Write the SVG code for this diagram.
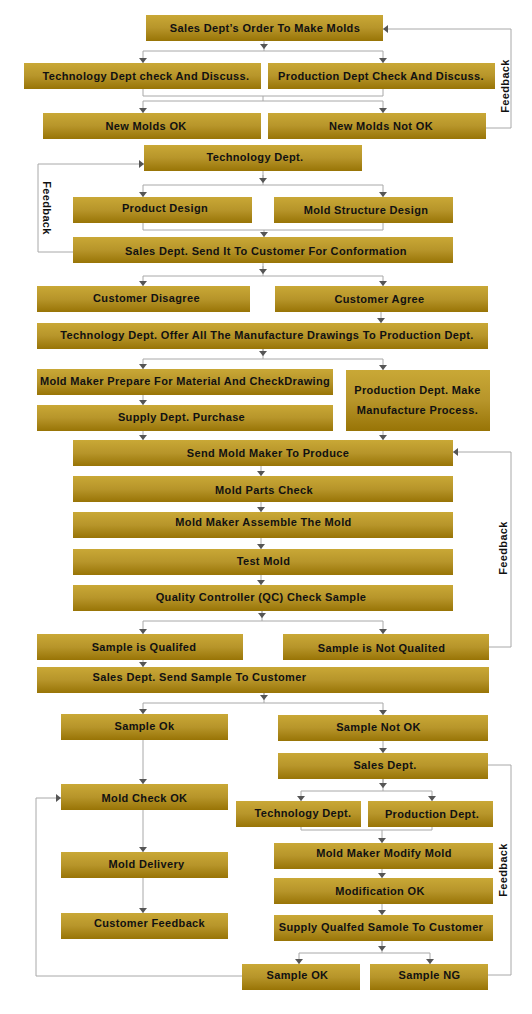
<svg xmlns="http://www.w3.org/2000/svg" width="532" height="1014" viewBox="0 0 532 1014">
<style>
.b{fill:url(#g);}
.t{font-family:"Liberation Sans",Arial,sans-serif;font-weight:bold;font-size:11px;letter-spacing:0.35px;fill:#111;text-anchor:middle;}
.s{text-anchor:start;}
.c{fill:none;stroke:#a8a8a8;stroke-width:1;}
.a{fill:none;stroke:#a8a8a8;stroke-width:1;marker-end:url(#ah);}
.f{font-family:"Liberation Sans",Arial,sans-serif;font-weight:bold;font-size:11px;letter-spacing:0.35px;fill:#111;text-anchor:middle;}
</style>
<defs>
<linearGradient id="g" x1="0" y1="0" x2="0" y2="1">
<stop offset="0" stop-color="#C9A836"/>
<stop offset="0.5" stop-color="#B7952A"/>
<stop offset="1" stop-color="#987406"/>
</linearGradient>
<marker id="ah" viewBox="0 0 5 8" refX="5" refY="4" markerWidth="5" markerHeight="8" markerUnits="userSpaceOnUse" orient="auto">
<path d="M0,0 L5,4 L0,8 z" fill="#555"/>
</marker>
</defs>
<rect width="532" height="1014" fill="#fff"/>
<g id="connectors">
<path class="c" d="M264,41 V51 M143,51 H383"/>
<path class="a" d="M264,43 V49"/>
<path class="a" d="M143,51 V63"/>
<path class="a" d="M383,51 V63"/>
<path class="c" d="M143,89 V96 H383 V89 M263,96 V101 M143,101 H383"/>
<path class="a" d="M143,101 V113"/>
<path class="a" d="M383,101 V113"/>
<path class="a" d="M486,128 H511 V29 H383"/>
<path class="c" d="M263,171 V185 M143,185 H383"/>
<path class="a" d="M263,175 V183"/>
<path class="a" d="M143,185 V197"/>
<path class="a" d="M383,185 V197"/>
<path class="c" d="M143,223 V230 H383 V223"/>
<path class="a" d="M264,230 V237"/>
<path class="a" d="M73,252 H38 V164 H144"/>
<path class="c" d="M263,263 V276 M143,276 H383"/>
<path class="a" d="M263,266 V274"/>
<path class="a" d="M143,276 V286"/>
<path class="a" d="M383,276 V286"/>
<path class="a" d="M381,312 V323"/>
<path class="c" d="M263,349 V359 M143,359 H383"/>
<path class="a" d="M263,349 V356"/>
<path class="a" d="M143,359 V369"/>
<path class="a" d="M383,359 V370"/>
<path class="a" d="M143,395 V405"/>
<path class="a" d="M143,431 V440"/>
<path class="a" d="M383,431 V440"/>
<path class="a" d="M261,466 V476"/>
<path class="a" d="M261,502 V512"/>
<path class="a" d="M261,538 V549"/>
<path class="a" d="M261,575 V585"/>
<path class="c" d="M262,611 V621 M143,621 H383"/>
<path class="a" d="M262,611 V618"/>
<path class="a" d="M143,621 V634"/>
<path class="a" d="M383,621 V634"/>
<path class="a" d="M489,647 H511 V452 H453"/>
<path class="a" d="M143,660 V667"/>
<path class="c" d="M264,693 V703 M143,703 H383"/>
<path class="a" d="M264,693 V700"/>
<path class="a" d="M143,703 V714"/>
<path class="a" d="M383,703 V715"/>
<path class="a" d="M143,740 V784"/>
<path class="a" d="M383,741 V753"/>
<path class="c" d="M383,779 V791 M301,791 H432"/>
<path class="a" d="M383,779 V788"/>
<path class="a" d="M301,791 V801"/>
<path class="a" d="M432,791 V801"/>
<path class="c" d="M488,765 H511 V975 H488"/>
<path class="c" d="M301,827 V830 H432 V827"/>
<path class="a" d="M382,830 V843"/>
<path class="a" d="M143,810 V852"/>
<path class="a" d="M143,878 V913"/>
<path class="a" d="M382,869 V878"/>
<path class="a" d="M382,904 V915"/>
<path class="c" d="M382,941 V953 M299,953 H430"/>
<path class="a" d="M382,941 V951"/>
<path class="a" d="M299,953 V964"/>
<path class="a" d="M430,953 V964"/>
<path class="a" d="M242,976 H36 V798 H61"/>
<text class="f" transform="translate(509,86) rotate(-90)">Feedback</text>
<text class="f" transform="translate(43,208) rotate(90)">Feedback</text>
<text class="f" transform="translate(507,548) rotate(-90)">Feedback</text>
<text class="f" transform="translate(507,870) rotate(-90)">Feedback</text>
</g>
<g id="n1"><rect class="b" x="146" y="15" width="237" height="26"/><text class="t" x="265" y="32">Sales Dept’s Order To Make Molds</text></g>
<g id="n2"><rect class="b" x="24" y="63" width="237" height="26"/><text class="t" x="146" y="80">Technology Dept check And Discuss.</text></g>
<g id="n3"><rect class="b" x="268" y="63" width="227" height="26"/><text class="t" x="381" y="80">Production Dept Check And Discuss.</text></g>
<g id="n4"><rect class="b" x="43" y="113" width="218" height="26"/><text class="t" x="146" y="130">New Molds OK</text></g>
<g id="n5"><rect class="b" x="268" y="113" width="218" height="26"/><text class="t" x="381" y="130">New Molds Not OK</text></g>
<g id="n6"><rect class="b" x="144" y="145" width="218" height="26"/><text class="t" x="255" y="161">Technology Dept.</text></g>
<g id="n7"><rect class="b" x="73" y="197" width="179" height="26"/><text class="t" x="165" y="212">Product Design</text></g>
<g id="n8"><rect class="b" x="274" y="197" width="179" height="26"/><text class="t" x="366" y="214">Mold Structure Design</text></g>
<g id="n9"><rect class="b" x="73" y="237" width="380" height="26"/><text class="t" x="266" y="255">Sales Dept. Send It To Customer For Conformation</text></g>
<g id="n10"><rect class="b" x="37" y="286" width="213" height="26"/><text class="t" x="146.5" y="302">Customer Disagree</text></g>
<g id="n11"><rect class="b" x="275" y="286" width="213" height="26"/><text class="t" x="379.5" y="303">Customer Agree</text></g>
<g id="n12"><rect class="b" x="37" y="323" width="451" height="26"/><text class="t" x="267" y="339">Technology Dept. Offer All The Manufacture Drawings To Production Dept.</text></g>
<g id="n13"><rect class="b" x="37" y="369" width="296" height="26"/><text class="t" x="185" y="385">Mold Maker Prepare For Material And CheckDrawing</text></g>
<g id="n14"><rect class="b" x="346" y="370" width="144" height="61"/><text class="t" x="417.5" y="394">Production Dept. Make</text><text class="t" x="417.5" y="414">Manufacture Process.</text></g>
<g id="n15"><rect class="b" x="37" y="405" width="296" height="26"/><text class="t" x="181.5" y="421">Supply Dept. Purchase</text></g>
<g id="n16"><rect class="b" x="73" y="440" width="380" height="26"/><text class="t" x="268" y="457">Send Mold Maker To Produce</text></g>
<g id="n17"><rect class="b" x="73" y="476" width="380" height="26"/><text class="t" x="264" y="494">Mold Parts Check</text></g>
<g id="n18"><rect class="b" x="73" y="512" width="380" height="26"/><text class="t" x="263.5" y="525.5">Mold Maker Assemble The Mold</text></g>
<g id="n19"><rect class="b" x="73" y="549" width="380" height="26"/><text class="t" x="263.5" y="565">Test Mold</text></g>
<g id="n20"><rect class="b" x="73" y="585" width="380" height="26"/><text class="t" x="261" y="601">Quality Controller (QC) Check Sample</text></g>
<g id="n21"><rect class="b" x="37" y="634" width="206" height="26"/><text class="t" x="144" y="650.5">Sample is Qualifed</text></g>
<g id="n22"><rect class="b" x="283" y="634" width="206" height="26"/><text class="t" x="381.5" y="651.5">Sample is Not Qualited</text></g>
<g id="n23"><rect class="b" x="37" y="667" width="452" height="26"/><text class="t s" x="92.5" y="680.5">Sales Dept. Send Sample To Customer</text></g>
<g id="n24"><rect class="b" x="61" y="714" width="167" height="26"/><text class="t" x="144.5" y="730.3">Sample Ok</text></g>
<g id="n25"><rect class="b" x="278" y="715" width="210" height="26"/><text class="t" x="378.5" y="731.4">Sample Not OK</text></g>
<g id="n26"><rect class="b" x="278" y="753" width="210" height="26"/><text class="t" x="385" y="769.4">Sales Dept.</text></g>
<g id="n27"><rect class="b" x="61" y="784" width="167" height="26"/><text class="t" x="144.5" y="801.6">Mold Check OK</text></g>
<g id="n28"><rect class="b" x="236" y="801" width="125" height="26"/><text class="t" x="303" y="817">Technology Dept.</text></g>
<g id="n29"><rect class="b" x="368" y="801" width="125" height="26"/><text class="t" x="432" y="818">Production Dept.</text></g>
<g id="n30"><rect class="b" x="61" y="852" width="167" height="26"/><text class="t" x="146.5" y="867.8">Mold Delivery</text></g>
<g id="n31"><rect class="b" x="61" y="913" width="167" height="26"/><text class="t" x="149.5" y="926.5">Customer Feedback</text></g>
<g id="n32"><rect class="b" x="274" y="843" width="219" height="26"/><text class="t" x="384" y="857.3">Mold Maker Modify Mold</text></g>
<g id="n33"><rect class="b" x="274" y="878" width="219" height="26"/><text class="t" x="380" y="895.3">Modification OK</text></g>
<g id="n34"><rect class="b" x="274" y="915" width="219" height="26"/><text class="t" x="381" y="931">Supply Qualfed Samole To Customer</text></g>
<g id="n35"><rect class="b" x="242" y="964" width="118" height="26"/><text class="t" x="297.5" y="978.7">Sample OK</text></g>
<g id="n36"><rect class="b" x="370" y="964" width="118" height="26"/><text class="t" x="429.5" y="978.7">Sample NG</text></g>
</svg>
